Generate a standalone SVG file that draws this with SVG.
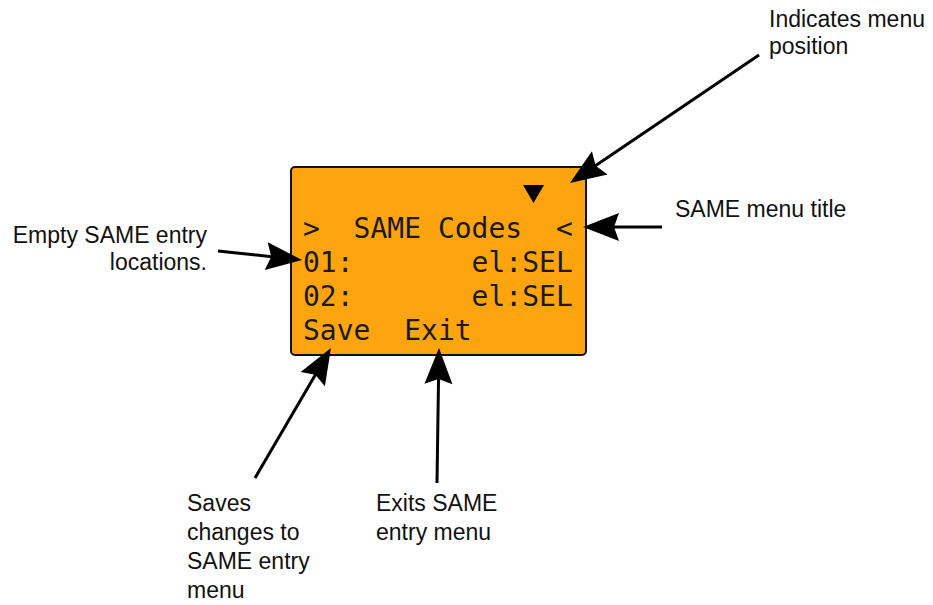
<svg xmlns="http://www.w3.org/2000/svg" width="933" height="605" viewBox="0 0 933 605">
  <style>
    .lbl { font-family: "Liberation Sans", Arial, sans-serif; font-size: 23px; fill: #111; }
    .lcd { font-family: "DejaVu Sans Mono", "Liberation Mono", monospace; font-size: 28px; fill: #1a1a1a; }
    .conn { stroke: #000; stroke-width: 3; fill: none; marker-end: url(#arrow); }
  </style>
  <defs>
    <marker id="arrow" markerUnits="userSpaceOnUse" markerWidth="40" markerHeight="32" viewBox="-2 -16 40 32" refX="24" refY="0" orient="auto">
      <path d="M0,-14 L36,0 L0,14 L5,0 Z" fill="#000"/>
    </marker>
  </defs>
  <rect width="933" height="605" fill="#fff"/>

  <g id="lcd-screen">
    <rect x="291" y="167" width="295" height="188" rx="4" ry="4" fill="#FEA40F" stroke="#111" stroke-width="2"/>
    <polygon points="523,185 544,185 533.5,203" fill="#000"/>
    <text class="lcd" x="303" y="238">&gt;</text>
    <text class="lcd" x="353.6" y="238">SAME Codes</text>
    <text class="lcd" x="555.9" y="238">&lt;</text>
    <text class="lcd" x="303" y="272">01:</text>
    <text class="lcd" x="471.6" y="272">el:SEL</text>
    <text class="lcd" x="303" y="306">02:</text>
    <text class="lcd" x="471.6" y="306">el:SEL</text>
    <text class="lcd" x="303" y="340">Save</text>
    <text class="lcd" x="404.2" y="340">Exit</text>
  </g>

  <g id="label-position">
    <text class="lbl" x="769" y="27">Indicates menu</text>
    <text class="lbl" x="769" y="54">position</text>
  </g>
  <g id="label-title">
    <text class="lbl" x="675" y="217">SAME menu title</text>
  </g>
  <g id="label-empty">
    <text class="lbl" x="207" y="243" text-anchor="end">Empty SAME entry</text>
    <text class="lbl" x="207" y="270" text-anchor="end">locations.</text>
  </g>
  <g id="label-save">
    <text class="lbl" x="187" y="511">Saves</text>
    <text class="lbl" x="187" y="540">changes to</text>
    <text class="lbl" x="187" y="569">SAME entry</text>
    <text class="lbl" x="187" y="598">menu</text>
  </g>
  <g id="label-exit">
    <text class="lbl" x="376" y="511">Exits SAME</text>
    <text class="lbl" x="376" y="540">entry menu</text>
  </g>

  <g id="connectors">
    <line class="conn" x1="759" y1="55" x2="579.9" y2="176.3"/>
    <line class="conn" x1="662" y1="227" x2="595" y2="227"/>
    <line class="conn" x1="218" y1="251" x2="290.1" y2="258.7"/>
    <line class="conn" x1="255" y1="478" x2="324.9" y2="358.4"/>
    <line class="conn" x1="437" y1="483" x2="438.8" y2="360"/>
  </g>
</svg>
